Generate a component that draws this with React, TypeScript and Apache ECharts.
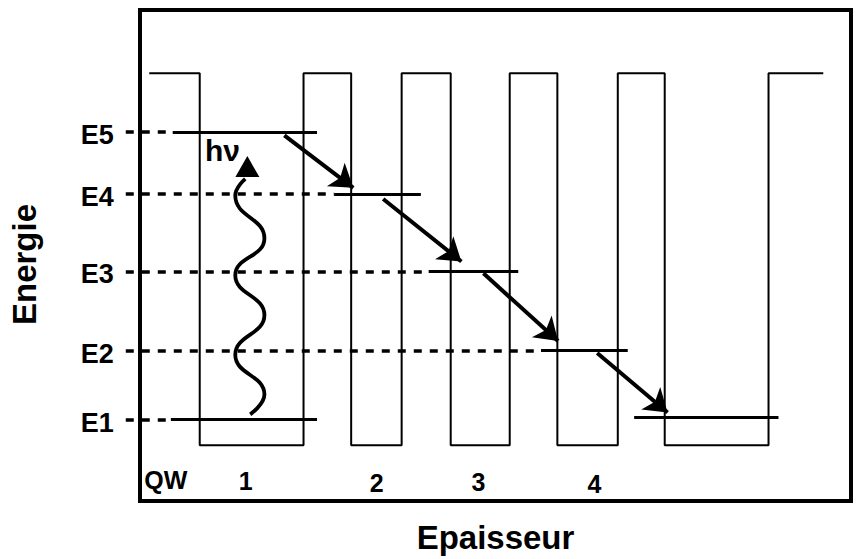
import React, { useEffect, useRef } from "react";
import * as echarts from "echarts";

// ---- Data (x: thickness units 0..100, y: energy units, well bottom = 0, barrier = 100) ----
const profileX = [1.3, 8.4, 8.4, 23.0, 23.0, 29.7, 29.7, 36.8, 36.8, 43.7, 43.7, 52.0, 52.0, 58.7, 58.7, 67.2, 67.2, 73.8, 73.8, 88.4, 88.4, 96.1];
const profileY = [100, 100, 0, 0, 100, 100, 0, 0, 100, 100, 0, 0, 100, 100, 0, 0, 100, 100, 0, 0, 100, 100];

const levelNames = ["E1", "E2", "E3", "E4", "E5"];
const levelEnergies = [6.9, 25.4, 46.7, 67.6, 84.2];
const levelStart = [4.34, 56.4, 40.6, 27.3, 4.6];
const levelEnd = [24.9, 68.6, 53.2, 39.5, 24.9];
const dashStart = -2;

const lastLevelStart = 69.5;
const lastLevelEnd = 89.8;
const lastLevelEnergy = 7.5;

const arrowFromX = [20.3, 34.2, 48.3, 64.3];
const arrowFromY = [83.3, 66.2, 46.2, 24.8];
const arrowToX = [30.0, 45.2, 58.8, 74.2];
const arrowToY = [69.2, 49.4, 28.0, 8.8];

const photonX = [15.5, 17.5, 13.4, 17.5, 13.4, 17.5, 13.4, 14.8];
const photonY = [8.3, 13.6, 24.3, 35.0, 45.7, 55.6, 67.1, 71.6];
const photonHead = [15.1, 74.9];
const photonLabel = "hν";
const photonLabelPos = [11.6, 79.1];

const wellLabels = ["QW", "1", "2", "3", "4"];
const wellLabelX = [3.64, 14.85, 33.3, 47.6, 63.9];
const wellLabelY = [-9.4, -9.6, -10.2, -9.9, -10.4];

const FONT = "'Liberation Sans', Arial, Helvetica, sans-serif";

export default function App() {
  const ref = useRef<HTMLDivElement>(null);
  useEffect(() => {
    const chart = echarts.init(ref.current as HTMLDivElement, null, { renderer: "svg" });
    const black = "#000";
    const textBase = { color: black, fontFamily: FONT, fontWeight: "bold" as const, opacity: 1 };

    const option: any = {
      animation: false,
      backgroundColor: "#fff",
      grid: { left: 137, right: 7, top: 10, bottom: 55, show: true, borderColor: black, borderWidth: 4, backgroundColor: "transparent" },
      xAxis: {
        type: "value", min: 0, max: 100,
        axisLine: { show: false }, axisTick: { show: false }, axisLabel: { show: false }, splitLine: { show: false },
        name: "Epaisseur", nameLocation: "middle", nameGap: 20,
        nameTextStyle: { ...textBase, fontSize: 33 },
      },
      yAxis: {
        type: "value", min: -15, max: 117,
        axisLine: { show: false }, axisTick: { show: false }, axisLabel: { show: false }, splitLine: { show: false },
        name: "Energie", nameLocation: "middle", nameGap: 99, nameRotate: 90,
        nameTextStyle: { ...textBase, fontSize: 33, padding: [0, 18, 0, 0] },
      },
      series: [
        {
          type: "line", data: profileX.map((x, i) => [x, profileY[i]]),
          symbol: "none", lineStyle: { color: black, width: 2 }, clip: false, silent: true, z: 2,
        },
        {
          type: "lines", coordinateSystem: "cartesian2d", polyline: false, clip: false, silent: true, z: 3,
          lineStyle: { color: black, width: 3.5, type: [8, 8], opacity: 1 },
          data: levelEnergies.map((e, i) => ({ coords: [[dashStart, e], [levelStart[i], e]] })),
        },
        {
          type: "lines", coordinateSystem: "cartesian2d", polyline: false, clip: false, silent: true, z: 4,
          lineStyle: { color: black, width: 3, opacity: 1 },
          data: [
            ...levelEnergies.map((e, i) => ({ coords: [[levelStart[i], e], [levelEnd[i], e]] })),
            { coords: [[lastLevelStart, lastLevelEnergy], [lastLevelEnd, lastLevelEnergy]] },
          ],
        },
        {
          type: "lines", coordinateSystem: "cartesian2d", polyline: false, clip: false, silent: true, z: 5,
          symbol: ["none", "arrow"], symbolSize: [17, 22],
          lineStyle: { color: black, width: 4, opacity: 1 },
          data: arrowFromX.map((x, i) => ({ coords: [[x, arrowFromY[i]], [arrowToX[i], arrowToY[i]]] })),
        },
        {
          type: "line", data: photonX.map((x, i) => [x, photonY[i]]), smooth: 0.5,
          symbol: "none", lineStyle: { color: black, width: 3.8 }, clip: false, silent: true, z: 5,
        },
        {
          type: "scatter", data: [photonHead], symbol: "triangle", symbolSize: [24, 21],
          itemStyle: { color: black, opacity: 1 }, clip: false, silent: true, z: 6,
        },
        {
          type: "scatter", data: levelEnergies.map((e, i) => [dashStart, e, levelNames[i]]),
          symbolSize: 0, clip: false, silent: true, itemStyle: { opacity: 1 },
          label: { show: true, position: "left", distance: 12, formatter: (p: any) => p.value[2], ...textBase, fontSize: 27, offset: [0, 3] },
        },
        {
          type: "scatter", data: wellLabelX.map((x, i) => [x, wellLabelY[i], wellLabels[i]]),
          symbolSize: 0, clip: false, silent: true, itemStyle: { opacity: 1 },
          label: { show: true, position: "inside", formatter: (p: any) => p.value[2], ...textBase, fontSize: 25 },
        },
        {
          type: "scatter", data: [[photonLabelPos[0], photonLabelPos[1], photonLabel]],
          symbolSize: 0, clip: false, silent: true, itemStyle: { opacity: 1 },
          label: { show: true, position: "inside", formatter: (p: any) => p.value[2], ...textBase, fontSize: 30 },
        },
      ],
    };
    chart.setOption(option);
    return () => chart.dispose();
  }, []);
  return <div ref={ref} style={{ position: "absolute", left: 0, top: 0, width: 858, height: 559 }} />;
}
